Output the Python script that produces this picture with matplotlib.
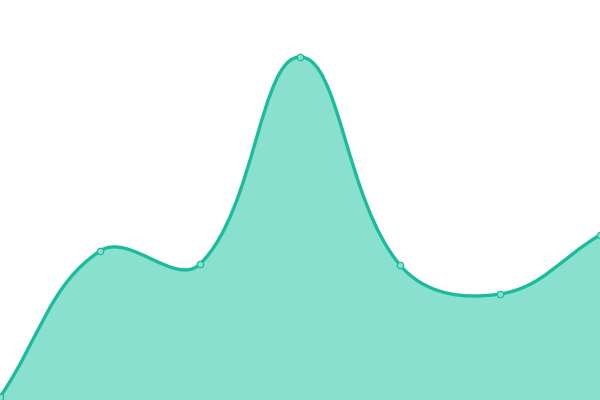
import numpy as np
import matplotlib
matplotlib.use('Agg')
import matplotlib.pyplot as plt
from matplotlib.path import Path
from matplotlib.patches import PathPatch

labels = ['A', 'B', 'C', 'D', 'E', 'F', 'G']
values = [3, 149, 136, 343, 135, 106, 165]

line_color = '#1abc9c'
fill_color = '#89e0cf'
tension = 0.4


def spline_controls(pts, t):
	# chart.js style control points, computed in pixel space
	n = len(pts)
	ctrl_prev = np.zeros_like(pts)
	ctrl_next = np.zeros_like(pts)
	for i in range(n):
		p0 = pts[i - 1] if i > 0 else pts[i]
		p1 = pts[i]
		p2 = pts[i + 1] if i < n - 1 else pts[i]
		d01 = np.hypot(*(p1 - p0))
		d12 = np.hypot(*(p2 - p1))
		tot = d01 + d12
		s01 = d01 / tot if tot else 0
		s12 = d12 / tot if tot else 0
		ctrl_prev[i] = p1 - t * s01 * (p2 - p0)
		ctrl_next[i] = p1 + t * s12 * (p2 - p0)
	return ctrl_prev, ctrl_next


fig = plt.figure(figsize=(6, 4), dpi=100)
ax = fig.add_axes([0, 0, 1, 1])
ax.set_xlim(0, len(values) - 1)
ax.set_ylim(0, 400)
ax.axis('off')

x = np.arange(len(values))
pix = ax.transData.transform(np.column_stack([x, values]))
cp, cn = spline_controls(pix, tension)
cp = np.clip(cp, [0, 0], [600, 400])
cn = np.clip(cn, [0, 0], [600, 400])

verts = [pix[0]]
codes = [Path.MOVETO]
for i in range(len(pix) - 1):
	verts += [cn[i], cp[i + 1], pix[i + 1]]
	codes += [Path.CURVE4] * 3
inv = ax.transData.inverted()
curve = inv.transform(np.array(verts))

fill_verts = np.vstack([curve, [[x[-1], 0], [x[0], 0], curve[0]]])
fill_codes = codes + [Path.LINETO, Path.LINETO, Path.CLOSEPOLY]
ax.add_patch(PathPatch(Path(fill_verts, fill_codes), facecolor=fill_color, edgecolor='none', zorder=1))
ax.add_patch(PathPatch(Path(curve, codes), facecolor='none', edgecolor=line_color, lw=2.4, zorder=2))
ax.plot(x, values, 'o', ms=4.6, mfc=fill_color, mec=line_color, mew=0.9, zorder=3, clip_on=False)

plt.savefig('out.png', dpi=100)
plt.close()
